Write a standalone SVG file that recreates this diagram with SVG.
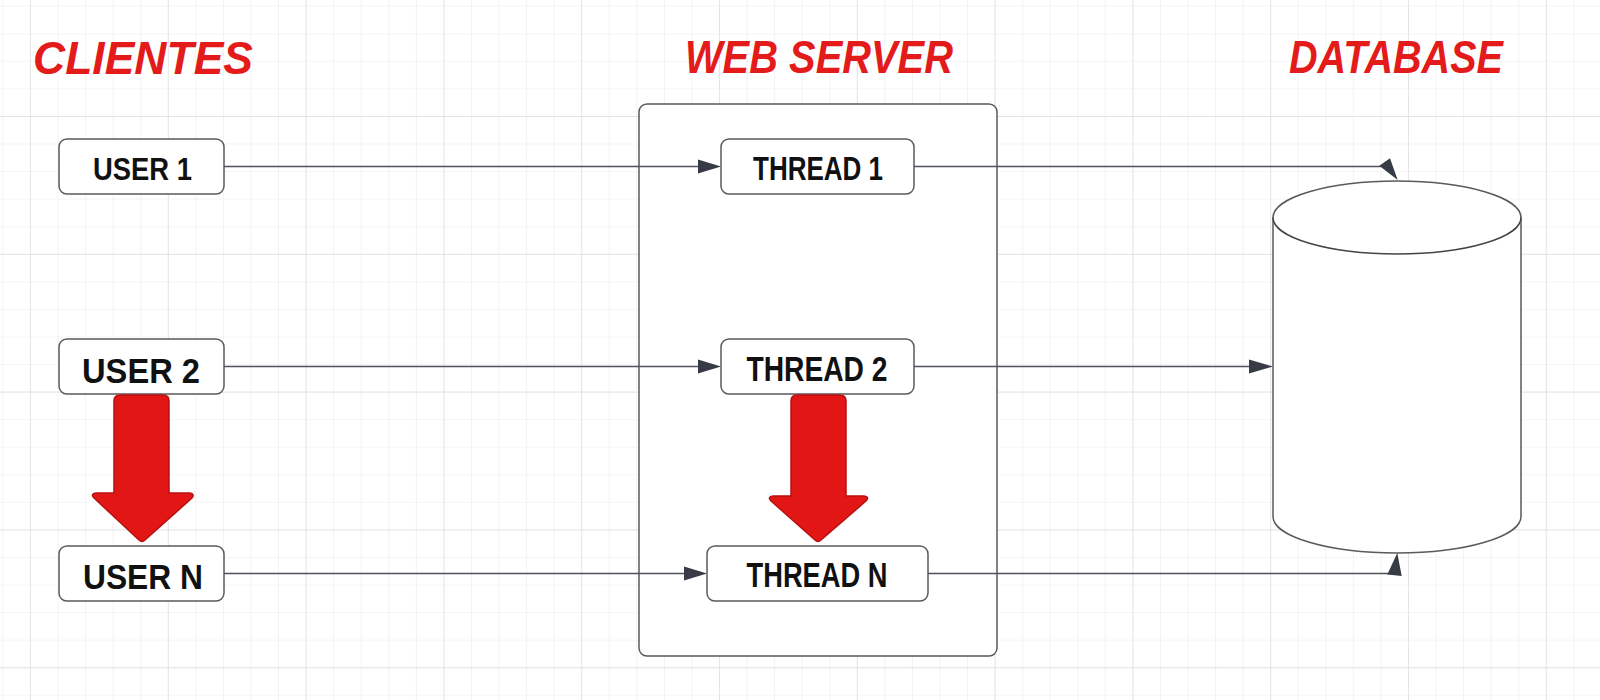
<svg xmlns="http://www.w3.org/2000/svg" width="1600" height="700" viewBox="0 0 1600 700">
<defs>
<pattern id="minor" x="30" y="33.3" width="27.56" height="27.56" patternUnits="userSpaceOnUse">
<path d="M0,0 V27.56 M0,0 H27.56" fill="none" stroke="#ebebeb" stroke-width="1.2"/>
</pattern>
<pattern id="major" x="30" y="116" width="137.8" height="137.8" patternUnits="userSpaceOnUse">
<path d="M0,0 V137.8 M0,0 H137.8" fill="none" stroke="#dedede" stroke-width="1.3"/>
</pattern>
<style>
.title{font-family:"Liberation Sans","DejaVu Sans",sans-serif;font-weight:bold;font-style:italic;fill:#e31b1b;}
.box{fill:#ffffff;stroke:#5a5a5a;stroke-width:1.5;}
.lbl{font-family:"Liberation Sans","DejaVu Sans",sans-serif;font-weight:bold;fill:#111111;text-anchor:middle;}
.edge{fill:none;stroke:#4d525c;stroke-width:1.5;}
.head{fill:#363b46;stroke:none;}
.big{fill:#e31616;stroke:#b81010;stroke-width:1.5;stroke-linejoin:round;}
</style>
</defs>
<rect width="1600" height="700" fill="#ffffff"/>
<rect width="1600" height="700" fill="url(#minor)"/>
<rect width="1600" height="700" fill="url(#major)"/>

<g id="titles">
<text class="title" x="33" y="74" font-size="46" textLength="220" lengthAdjust="spacingAndGlyphs">CLIENTES</text>
<text class="title" x="685" y="73" font-size="46" textLength="268" lengthAdjust="spacingAndGlyphs">WEB SERVER</text>
<text class="title" x="1289" y="73" font-size="46" textLength="214" lengthAdjust="spacingAndGlyphs">DATABASE</text>
</g>

<g id="webserver">
<rect x="639" y="104" width="358" height="552" rx="8" class="box" stroke="#5f6268"/>
</g>

<g id="database">
<path d="M1273,217.5 A124,36.5 0 0 1 1521,217.5 V516.5 A124,36.5 0 0 1 1273,516.5 Z" class="box" stroke="#444"/>
<path d="M1273,217.5 A124,36.5 0 0 0 1521,217.5" fill="none" stroke="#444" stroke-width="1.5"/>
</g>

<g id="connectors">
<path class="edge" d="M224,166.5 H700"/>
<polygon class="head" points="698,159.5 721,166.5 698,173.5"/>
<path class="edge" d="M224,366.5 H700"/>
<polygon class="head" points="698,359.5 721,366.5 698,373.5"/>
<path class="edge" d="M224,573.5 H686"/>
<polygon class="head" points="684,566.5 707,573.5 684,580.5"/>
<path class="edge" d="M914,166.5 H1381"/>
<polygon class="head" points="1379.3,165.7 1390,158.3 1397.7,180"/>
<path class="edge" d="M914,366.5 H1251"/>
<polygon class="head" points="1249,359.5 1273,366.5 1249,373.5"/>
<path class="edge" d="M928,573.5 H1390"/>
<polygon class="head" points="1387.3,574.5 1401.7,576 1397.3,553"/>
</g>

<g id="user1">
<rect x="59" y="139" width="165" height="55" rx="8" class="box"/>
<text class="lbl" x="142.5" y="180" font-size="31" textLength="99" lengthAdjust="spacingAndGlyphs">USER 1</text>
</g>
<g id="user2">
<rect x="59" y="339" width="165" height="55" rx="8" class="box"/>
<text class="lbl" x="141" y="383" font-size="35" textLength="118" lengthAdjust="spacingAndGlyphs">USER 2</text>
</g>
<g id="userN">
<rect x="59" y="546" width="165" height="55" rx="8" class="box"/>
<text class="lbl" x="143" y="589" font-size="35" textLength="120" lengthAdjust="spacingAndGlyphs">USER N</text>
</g>
<g id="thread1">
<rect x="721" y="139" width="193" height="55" rx="8" class="box"/>
<text class="lbl" x="818" y="180" font-size="33" textLength="130" lengthAdjust="spacingAndGlyphs">THREAD 1</text>
</g>
<g id="thread2">
<rect x="721" y="339" width="193" height="55" rx="8" class="box"/>
<text class="lbl" x="817" y="381" font-size="35" textLength="141" lengthAdjust="spacingAndGlyphs">THREAD 2</text>
</g>
<g id="threadN">
<rect x="707" y="546" width="221" height="55" rx="8" class="box"/>
<text class="lbl" x="817" y="587" font-size="35" textLength="141" lengthAdjust="spacingAndGlyphs">THREAD N</text>
</g>

<g id="flow-arrows">
<path class="big" d="M120,395 H163 Q169,395 169,401 V493 H190 Q195,494 192,498 L145,540 Q142,543 139,540 L94,498 Q90,494 96,493 H114 V401 Q114,395 120,395 Z"/>
<path class="big" d="M797,395 H840 Q846,395 846,401 V496 H864 Q870,497 866,501 L821,540 Q818,543 815,540 L771,501 Q767,497 773,496 H791 V401 Q791,395 797,395 Z"/>
</g>
</svg>
